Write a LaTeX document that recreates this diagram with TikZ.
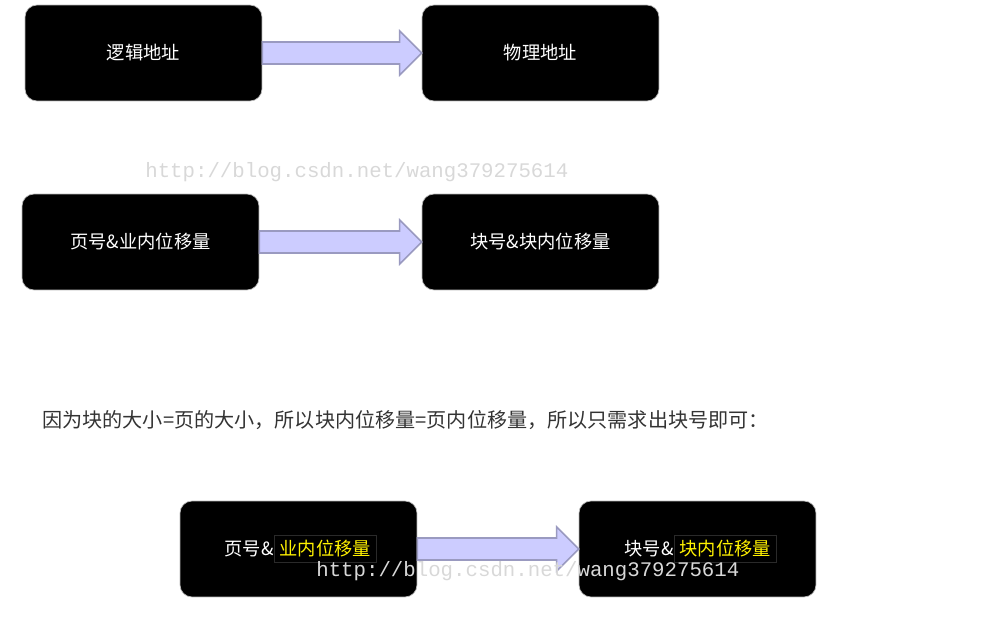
\documentclass[tikz,border=0pt]{standalone}
\usepackage{fontspec}
\setmainfont{Noto Sans CJK SC}
\newfontfamily\wmfont{Liberation Mono}
\usetikzlibrary{positioning,calc}
\definecolor{arrowfill}{HTML}{CCCCFF}
\definecolor{arrowline}{HTML}{9A9AC0}
\definecolor{wmgray}{HTML}{D8D8D8}
\definecolor{notegray}{HTML}{333333}
\definecolor{hlframe}{HTML}{2A2A2A}

\begin{document}
\begin{tikzpicture}[x=0.02cm, y=-0.02cm,
  block/.style={rectangle, rounded corners=0.24cm, draw=gray!55, fill=black, text=white, minimum width=4.74cm, minimum height=1.92cm, font=\fontsize{10.4}{12}\selectfont},
  offset/.style={rectangle, draw=hlframe, text=yellow, inner sep=3pt, font=\fontsize{10.4}{12}\selectfont},
  fat/.style={fill=arrowfill, draw=arrowline, line width=0.9pt, line join=miter},
  wmark/.style={text=wmgray, anchor=west, inner sep=0pt, font=\wmfont\fontsize{11.8}{12}\selectfont}
]
  \useasboundingbox (0,0) rectangle (988,629);
  % address boxes
  \node[block] (logic) at (143.5,53) {逻辑地址};
  \node[block] (phys) at (540.5,53) {物理地址};
  \node[block] (page) at (140.5,242) {页号\&业内位移量};
  \node[block] (frame) at (540.5,242) {块号\&块内位移量};
  % remark
  \node[text=notegray, anchor=west, inner sep=0pt, font=\fontsize{11.45}{13}\selectfont] (note) at (42,420) {因为块的大小=页的大小，所以块内位移量=页内位移量，所以只需求出块号即可：};
  % bottom pair
  \node[block] (page2) at (298.5,549) {};
  \node[block] (frame2) at (697.5,549) {};
  \node[offset, anchor=west] (poff) at (274,549) {业内位移量};
  \node[text=white, inner sep=0pt, left=0pt of poff, font=\fontsize{10.4}{12}\selectfont] (pno) {页号\&};
  \node[offset, anchor=west] (foff) at (674,549) {块内位移量};
  \node[text=white, inner sep=0pt, left=0pt of foff, font=\fontsize{10.4}{12}\selectfont] (fno) {块号\&};
  % block arrows
  \foreach \a/\b in {logic/phys, page/frame, page2/frame2}
    \draw[fat] ($(\a.east)+(0,-11)$) -- ($(\b.west)+(-22,-11)$) -- ($(\b.west)+(-22,-22)$) -- (\b.west)
      -- ($(\b.west)+(-22,22)$) -- ($(\b.west)+(-22,11)$) -- ($(\a.east)+(0,11)$) -- cycle;
  % watermarks
  \node[wmark] (wm1) at (145,172) {http://blog.csdn.net/wang379275614};
  \node[wmark] (wm2) at (316,571) {http://blog.csdn.net/wang379275614};
\end{tikzpicture}
\end{document}
